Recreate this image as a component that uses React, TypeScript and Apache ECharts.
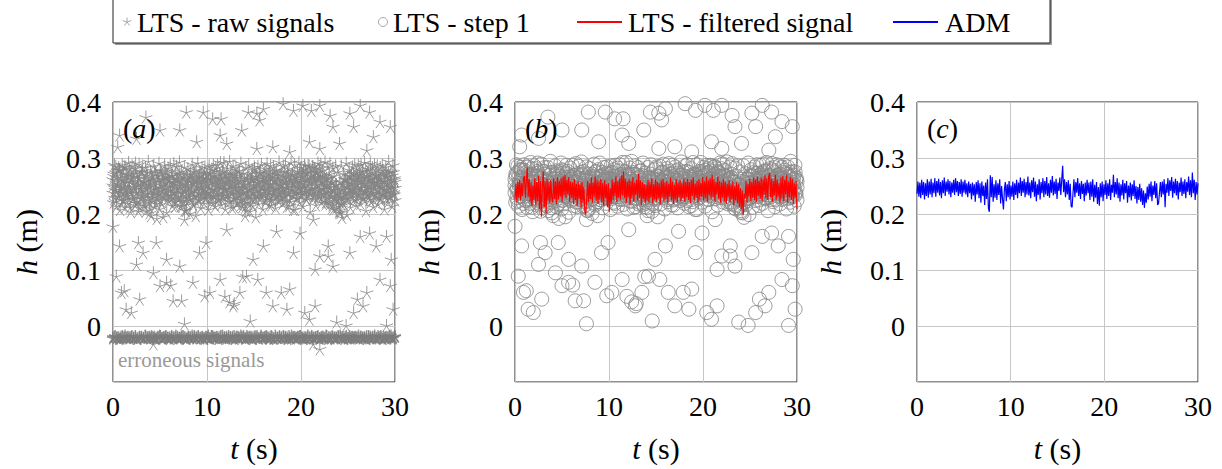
import React, { useEffect, useRef } from 'react';
import * as echarts from 'echarts';

// ---------------- DATA ----------------
const xTicks = [0, 10, 20, 30];
const yTicks = [0, 0.1, 0.2, 0.3, 0.4];
const T_END = 30;

// LTS raw signals, sensor set 1: band of valid readings (uniformly sampled over 0..30 s)
const rawBand = [
  0.262,0.221,0.288,0.243,0.285,0.214,0.251,0.279,0.232,0.279,0.208,0.266,0.239,0.288,0.225,0.273,0.247,0.212,0.284,0.236,
  0.258,0.219,0.292,0.241,0.271,0.204,0.263,0.286,0.228,0.249,0.281,0.216,0.291,0.237,0.268,0.223,0.254,0.289,0.211,0.246,
  0.276,0.232,0.283,0.218,0.257,0.242,0.283,0.206,0.269,0.235,0.294,0.221,0.252,0.274,0.197,0.261,0.229,0.286,0.244,0.213,
  0.271,0.238,0.192,0.259,0.226,0.291,0.209,0.248,0.277,0.218,0.263,0.195,0.245,0.287,0.231,0.266,0.203,0.254,0.282,0.224,
  0.249,0.287,0.234,0.268,0.215,0.257,0.29,0.239,0.272,0.222,0.285,0.246,0.261,0.228,0.293,0.251,0.214,0.276,0.237,0.264,
  0.222,0.284,0.243,0.206,0.271,0.252,0.281,0.231,0.259,0.201,0.267,0.241,0.289,0.219,0.255,0.276,0.233,0.197,0.262,0.245,
  0.291,0.226,0.258,0.274,0.211,0.248,0.283,0.236,0.265,0.219,0.284,0.243,0.229,0.271,0.253,0.208,0.286,0.239,0.262,0.221,
  0.279,0.244,0.287,0.231,0.257,0.214,0.268,0.249,0.288,0.226,0.263,0.238,0.292,0.217,0.254,0.275,0.233,0.292,0.246,0.209,
  0.266,0.235,0.282,0.223,0.258,0.294,0.241,0.271,0.212,0.252,0.286,0.229,0.264,0.247,0.283,0.218,0.256,0.277,0.236,0.269,
  0.226,0.291,0.248,0.213,0.273,0.239,0.259,0.197,0.283,0.232,0.265,0.221,0.288,0.244,0.205,0.262,0.237,0.279,0.215,0.253,
  0.284,0.229,0.195,0.267,0.241,0.285,0.218,0.256,0.274,0.233,0.289,0.249,0.209,0.263,0.238,0.281,0.222,0.258,0.29,0.235,
  0.271,0.216,0.254,0.287,0.243,0.227,0.268,0.284,0.236,0.259,0.211,0.279,0.245,0.264,0.224,0.293,0.251,0.231,0.275,0.242,
  0.219,0.286,0.257,0.234,0.288,0.248,0.213,0.266,0.239,0.281,0.226,0.262,0.292,0.244,0.271,0.208,0.255,0.288,0.237,0.261,
  0.229,0.276,0.247,0.292,0.221,0.258,0.283,0.235,0.269,0.214,0.252,0.287,0.241,0.273,0.226,0.261,0.287,0.233,0.256,0.204,
  0.268,0.243,0.285,0.227,0.262,0.281,0.238,0.216,0.274,0.253,0.291,0.232,0.266,0.245,0.289,0.221,0.259,0.278,0.236,0.251,
  0.293,0.218,0.264,0.247,0.284,0.229,0.271,0.29,0.239,0.257,0.211,0.282,0.244,0.268,0.233,0.286,0.252,0.226,0.275,0.241,
  0.203,0.258,0.231,0.286,0.194,0.249,0.272,0.217,0.263,0.236,0.291,0.199,0.255,0.228,0.279,0.245,0.212,0.268,0.238,0.284,
  0.224,0.261,0.288,0.242,0.273,0.215,0.253,0.287,0.234,0.266,0.219,0.289,0.248,0.277,0.227,0.259,0.292,0.239,0.206,0.269,
  0.246,0.281,0.231,0.263,0.29,0.222,0.257,0.275,0.213,0.249,0.288,0.236,0.27,0.253,0.286,0.218,0.262,0.241,0.283,0.228,
  0.255,0.287,0.236,0.272,0.209,0.259,0.284,0.243,0.267,0.221,0.294,0.248,0.231,0.276,0.252,0.214,0.287,0.239,0.264,0.225,
];

// LTS raw signals, sensor set 2 (uniformly sampled over 0..30 s)
const rawBand2 = [
  0.251,0.268,0.229,0.274,0.241,0.259,0.283,0.236,0.262,0.247,0.278,0.224,0.256,0.243,0.271,0.232,0.264,0.249,0.281,0.238,
  0.255,0.226,0.267,0.244,0.273,0.219,0.252,0.238,0.265,0.228,0.249,0.276,0.234,0.258,0.214,0.246,0.262,0.231,0.254,0.211,
  0.243,0.268,0.223,0.257,0.235,0.274,0.248,0.229,0.263,0.241,0.279,0.252,0.233,0.266,0.245,0.272,0.238,0.256,0.227,0.261,
  0.249,0.234,0.269,0.242,0.258,0.221,0.253,0.237,0.264,0.226,0.247,0.271,0.232,0.255,0.215,0.243,0.261,0.224,0.209,0.248,
  0.236,0.262,0.227,0.253,0.241,0.275,0.233,0.257,0.222,0.248,0.266,0.238,0.254,0.229,0.27,0.244,0.259,0.235,0.263,0.231,
  0.252,0.239,0.273,0.228,0.256,0.245,0.268,0.234,0.261,0.242,0.277,0.231,0.255,0.247,0.264,0.226,0.251,0.238,0.269,0.243,
  0.258,0.232,0.263,0.246,0.223,0.255,0.239,0.271,0.228,0.252,0.236,0.265,0.221,0.248,0.234,0.26,0.217,0.244,0.229,0.253,
  0.212,0.241,0.226,0.258,0.233,0.247,0.219,0.262,0.238,0.251,0.227,0.268,0.243,0.256,0.231,0.272,0.237,0.259,0.246,0.264,
  0.234,0.257,0.243,0.276,0.229,0.254,0.241,0.266,0.225,0.249,0.235,0.261,0.244,0.273,0.232,0.256,0.239,0.27,0.227,0.252,
  0.245,0.267,0.231,0.259,0.24,0.274,0.236,0.253,0.222,0.262,0.248,0.234,0.269,0.242,0.257,0.228,0.265,0.239,0.276,0.246,
  0.255,0.237,0.272,0.249,0.281,0.233,0.263,0.244,0.277,0.238,0.259,0.247,0.284,0.235,0.266,0.251,0.273,0.229,0.262,0.242,
  0.27,0.236,0.258,0.245,0.267,0.227,0.254,0.239,0.263,0.221,0.248,0.233,0.257,0.216,0.243,0.229,0.252,0.211,0.238,0.224,
  0.206,0.232,0.218,0.245,0.227,0.253,0.236,0.261,0.228,0.249,0.241,0.268,0.233,0.255,0.244,0.272,0.238,0.259,0.231,0.264,
  0.247,0.271,0.235,0.258,0.243,0.276,0.229,0.254,0.24,0.266,0.234,0.261,0.248,0.279,0.237,0.256,0.226,0.263,0.245,0.269,
  0.238,0.257,0.231,0.266,0.249,0.274,0.236,0.259,0.243,0.271,0.228,0.255,0.24,0.268,0.233,0.262,0.247,0.275,0.235,0.258,
];

// LTS raw signals, sensor set 3 (uniformly sampled over 0..30 s)
const rawBand3 = [
  0.238,0.272,0.247,0.223,0.265,0.254,0.231,0.278,0.243,0.219,0.261,0.249,0.284,0.227,0.257,0.236,0.269,0.244,0.212,0.258,
  0.233,0.266,0.248,0.221,0.276,0.239,0.257,0.205,0.263,0.245,0.228,0.271,0.252,0.215,0.259,0.237,0.274,0.226,0.249,0.202,
  0.256,0.229,0.264,0.239,0.277,0.246,0.218,0.268,0.235,0.259,0.224,0.273,0.242,0.262,0.231,0.255,0.276,0.241,0.266,0.233,
  0.261,0.244,0.227,0.269,0.238,0.256,0.213,0.263,0.245,0.231,0.274,0.251,0.223,0.259,0.238,0.266,0.207,0.247,0.229,0.264,
  0.249,0.227,0.271,0.239,0.258,0.216,0.265,0.243,0.279,0.232,0.254,0.225,0.268,0.246,0.236,0.262,0.241,0.273,0.228,0.257,
  0.237,0.263,0.248,0.274,0.232,0.259,0.219,0.267,0.244,0.282,0.236,0.254,0.227,0.271,0.249,0.262,0.233,0.276,0.245,0.258,
  0.271,0.245,0.229,0.262,0.251,0.274,0.236,0.258,0.213,0.247,0.269,0.232,0.255,0.241,0.277,0.226,0.264,0.238,0.252,0.219,
  0.248,0.206,0.263,0.235,0.271,0.244,0.257,0.228,0.266,0.239,0.281,0.247,0.262,0.233,0.256,0.241,0.275,0.229,0.259,0.252,
  0.243,0.268,0.226,0.261,0.248,0.235,0.272,0.253,0.216,0.264,0.241,0.277,0.229,0.258,0.246,0.269,0.236,0.254,0.243,0.231,
  0.262,0.239,0.276,0.224,0.254,0.247,0.268,0.215,0.259,0.244,0.271,0.233,0.252,0.208,0.265,0.238,0.257,0.248,0.272,0.235,
  0.266,0.249,0.278,0.241,0.259,0.226,0.274,0.252,0.286,0.237,0.263,0.245,0.271,0.231,0.258,0.276,0.243,0.267,0.234,0.281,
  0.256,0.229,0.268,0.246,0.237,0.261,0.222,0.253,0.241,0.265,0.218,0.249,0.232,0.257,0.209,0.244,0.226,0.252,0.235,0.214,
  0.228,0.202,0.243,0.221,0.256,0.234,0.262,0.227,0.249,0.268,0.238,0.257,0.246,0.274,0.231,0.263,0.244,0.252,0.225,0.269,
  0.259,0.237,0.274,0.248,0.265,0.229,0.256,0.243,0.277,0.235,0.268,0.251,0.226,0.262,0.244,0.283,0.238,0.257,0.266,0.232,
  0.254,0.271,0.243,0.226,0.263,0.249,0.278,0.237,0.258,0.232,0.267,0.245,0.274,0.229,0.256,0.241,0.269,0.236,0.261,0.247,
];

// LTS raw signals: scattered outliers [t (s), h (m)]
const rawOutliers: [number, number][] = [
  [3.5,0.373],[7.8,0.382],[9.6,0.382],[10.6,0.37],[11.5,0.37],[13.7,0.35],[14.4,0.382],[15.3,0.38],[16,0.388],[15.6,0.368],
  [18.1,0.397],[19.2,0.385],[20.2,0.394],[21.1,0.385],[22,0.394],[23.1,0.376],[23.4,0.356],[25.2,0.38],[26.3,0.394],[27.3,0.382],
  [28.4,0.365],[29.5,0.356],[25.6,0.356],[5,0.35],[7.1,0.35],[11.4,0.341],[12.1,0.326],[8.9,0.329],[15.3,0.317],[17,0.32],
  [18.8,0.311],[20.9,0.329],[22,0.317],[24.1,0.326],[27.7,0.338],[27,0.314],[0.5,0.32],[2.5,0.335],[0.7,0.341],
  [0,0.178],[0.7,0.143],[0.35,0.089],[1.2,0.063],[1.4,0.03],[0.9,0.06],[1.95,0.024],[2.84,0.048],[2.7,0.149],[3.2,0.131],
  [4.3,0.095],[5,0.072],[5.7,0.078],[6.14,0.073],[6.4,0.045],[7.3,0.045],[7.6,0.004],[2.5,0.11],[4.6,0.149],[5.7,0.119],
  [7.1,0.107],[8.5,0.078],[9.2,0.131],[9.76,0.054],[9.9,0.149],[10.3,0.06],[11.4,0.083],[11.9,0.053],[12.4,0.043],[12.9,0.04],
  [12.1,0.172],[12.8,0.036],[13.5,0.06],[13.8,0.088],[14.2,0.089],[14.6,0.009],[14.9,0.119],[15.4,0.083],[16,0.143],[16.3,0.06],
  [17,0.036],[17.9,0.06],[18.5,0.03],[18.8,0.066],[19.2,0.131],[19.9,0.166],[20.4,0.024],[20.9,0.012],[21.5,0.036],[21.5,0.101],
  [22,0.125],[22.9,0.125],[23.4,0.107],[22.9,0.143],[23.8,0.007],[24.8,0.001],[25.6,0.024],[26,0.048],[26.6,0.036],[27,0.06],
  [25.2,0.131],[26.3,0.16],[27.3,0.166],[28,0.143],[28.4,0.083],[29.1,0.001],[29.8,0.03],[29.5,0.072],[29.6,0.119],[29.1,0.16],
  [21.3,0.19],[17.4,0.169],[7.6,0.19],[22,-0.041],[21.3,-0.032],[4.3,-0.032],
];

// LTS raw signals: erroneous readings, sensor sets 1 and 2 (uniformly sampled over 0..30 s)
const erroneous = [
  -0.02,-0.019,-0.021,-0.02,-0.022,-0.018,-0.02,-0.021,-0.019,-0.02,
  -0.018,-0.021,-0.02,-0.022,-0.019,-0.02,-0.021,-0.018,-0.02,-0.019,
  -0.021,-0.02,-0.019,-0.022,-0.02,-0.018,-0.021,-0.02,-0.019,-0.021,
  -0.02,-0.018,-0.022,-0.02,-0.019,-0.021,-0.02,-0.018,-0.02,-0.022,
  -0.019,-0.02,-0.021,-0.018,-0.02,-0.019,-0.022,-0.02,-0.021,-0.019,
  -0.02,-0.022,-0.018,-0.02,-0.021,-0.019,-0.02,-0.018,-0.021,-0.02,
  -0.019,-0.021,-0.02,-0.022,-0.018,-0.02,-0.019,-0.021,-0.02,-0.018,
  -0.022,-0.02,-0.019,-0.021,-0.02,-0.018,-0.02,-0.022,-0.019,-0.021,
  -0.02,-0.018,-0.021,-0.02,-0.019,-0.022,-0.02,-0.021,-0.018,-0.02,
  -0.019,-0.021,-0.02,-0.018,-0.022,-0.02,-0.019,-0.021,-0.02,-0.018,
  -0.021,-0.02,-0.022,-0.019,-0.02,-0.018,-0.021,-0.02,-0.019,-0.022,
  -0.02,-0.019,-0.021,-0.018,-0.02,-0.022,-0.019,-0.02,-0.021,-0.018,
  -0.02,-0.021,-0.019,-0.02,-0.022,-0.018,-0.02,-0.021,-0.019,-0.02,
  -0.022,-0.019,-0.02,-0.021,-0.018,-0.02,-0.019,-0.022,-0.02,-0.021,
  -0.018,-0.02,-0.021,-0.019,-0.02,-0.022,-0.018,-0.021,-0.02,-0.019,
];
const erroneous2 = [
  -0.022,-0.018,-0.02,-0.023,-0.019,-0.021,-0.017,-0.02,-0.022,-0.019,-0.021,-0.018,-0.023,-0.02,-0.019,-0.022,-0.017,-0.021,-0.02,-0.018,
  -0.021,-0.023,-0.019,-0.017,-0.022,-0.02,-0.018,-0.021,-0.023,-0.019,-0.02,-0.017,-0.022,-0.021,-0.018,-0.02,-0.023,-0.019,-0.021,-0.017,
  -0.02,-0.022,-0.018,-0.021,-0.019,-0.023,-0.02,-0.017,-0.022,-0.018,-0.021,-0.02,-0.023,-0.019,-0.017,-0.021,-0.022,-0.018,-0.02,-0.019,
  -0.023,-0.019,-0.021,-0.017,-0.02,-0.022,-0.018,-0.021,-0.019,-0.023,-0.02,-0.018,-0.022,-0.017,-0.021,-0.019,-0.02,-0.023,-0.018,-0.022,
  -0.017,-0.021,-0.02,-0.022,-0.018,-0.019,-0.023,-0.021,-0.017,-0.02,-0.022,-0.019,-0.018,-0.021,-0.023,-0.02,-0.017,-0.022,-0.019,-0.021,
  -0.02,-0.018,-0.022,-0.019,-0.021,-0.017,-0.023,-0.02,-0.018,-0.022,-0.021,-0.019,-0.017,-0.02,-0.023,-0.018,-0.021,-0.022,-0.019,-0.02,
  -0.021,-0.017,-0.019,-0.022,-0.02,-0.023,-0.018,-0.021,-0.019,-0.017,-0.022,-0.02,-0.018,-0.023,-0.021,-0.019,-0.02,-0.017,-0.022,-0.018,
];

// LTS - filtered signal (uniformly sampled over 0..30 s)
const filteredSignal = [
  0.226,0.254,0.221,0.258,0.229,0.261,0.224,0.255,0.232,0.263,0.268,0.228,0.259,0.283,0.231,0.262,0.222,0.256,0.214,0.251,
  0.225,0.264,0.216,0.257,0.223,0.268,0.209,0.259,0.195,0.248,0.276,0.212,0.258,0.201,0.263,0.224,0.257,0.219,0.261,0.228,
  0.221,0.263,0.227,0.258,0.218,0.266,0.226,0.259,0.231,0.264,0.222,0.267,0.233,0.27,0.228,0.261,0.235,0.266,0.222,0.258,
  0.229,0.256,0.218,0.262,0.225,0.254,0.214,0.258,0.227,0.255,0.212,0.257,0.22,0.249,0.205,0.199,0.226,0.259,0.221,0.255,
  0.227,0.265,0.22,0.256,0.231,0.267,0.223,0.261,0.218,0.258,0.226,0.263,0.221,0.255,0.215,0.26,0.228,0.253,0.212,0.255,
  0.204,0.246,0.219,0.262,0.225,0.257,0.232,0.267,0.222,0.259,0.229,0.264,0.226,0.269,0.233,0.276,0.228,0.263,0.22,0.258,
  0.23,0.262,0.217,0.259,0.228,0.266,0.222,0.256,0.234,0.261,0.224,0.272,0.229,0.26,0.215,0.257,0.227,0.254,0.219,0.252,
  0.224,0.261,0.221,0.257,0.229,0.264,0.219,0.253,0.226,0.262,0.222,0.258,0.228,0.255,0.217,0.26,0.23,0.263,0.223,0.256,
  0.227,0.259,0.22,0.254,0.231,0.265,0.224,0.258,0.218,0.252,0.226,0.262,0.221,0.256,0.229,0.26,0.223,0.255,0.228,0.263,
  0.222,0.257,0.23,0.263,0.225,0.257,0.219,0.261,0.232,0.265,0.224,0.254,0.229,0.259,0.221,0.262,0.226,0.256,0.231,0.266,
  0.224,0.258,0.228,0.267,0.222,0.26,0.233,0.264,0.226,0.27,0.23,0.262,0.223,0.257,0.235,0.267,0.227,0.259,0.22,0.256,
  0.229,0.262,0.223,0.257,0.218,0.254,0.23,0.26,0.221,0.252,0.226,0.258,0.216,0.25,0.224,0.256,0.219,0.253,0.213,0.246,
  0.208,0.242,0.198,0.236,0.228,0.259,0.22,0.254,0.231,0.263,0.223,0.257,0.229,0.265,0.225,0.261,0.221,0.267,0.232,0.259,
  0.227,0.265,0.223,0.262,0.234,0.269,0.228,0.264,0.225,0.267,0.273,0.23,0.263,0.221,0.259,0.233,0.27,0.226,0.262,0.231,
  0.255,0.22,0.265,0.228,0.268,0.223,0.261,0.235,0.27,0.221,0.258,0.23,0.266,0.225,0.263,0.218,0.256,0.229,0.259,0.208,
];

// ADM (uniformly sampled over 0..30 s)
const admSignal = [
  0.236,0.258,0.231,0.256,0.228,0.261,0.234,0.257,0.226,0.255,0.232,0.262,0.229,0.258,0.235,0.263,0.23,0.256,0.237,0.264,
  0.231,0.259,0.238,0.263,0.233,0.257,0.228,0.26,0.237,0.265,0.232,0.258,0.24,0.262,0.235,0.259,0.23,0.256,0.238,0.261,
  0.234,0.264,0.239,0.259,0.232,0.257,0.236,0.262,0.231,0.258,0.238,0.261,0.235,0.255,0.23,0.258,0.237,0.254,0.226,0.256,
  0.233,0.253,0.222,0.257,0.235,0.26,0.228,0.255,0.22,0.258,0.232,0.251,0.216,0.256,0.227,0.262,0.21,0.204,0.269,0.23,
  0.266,0.222,0.253,0.229,0.26,0.225,0.255,0.234,0.262,0.219,0.25,0.227,0.208,0.244,0.257,0.223,0.253,0.23,0.259,0.226,
  0.251,0.231,0.258,0.225,0.255,0.234,0.261,0.228,0.256,0.237,0.265,0.232,0.259,0.238,0.263,0.23,0.257,0.235,0.267,0.233,
  0.256,0.228,0.26,0.239,0.265,0.231,0.258,0.223,0.253,0.234,0.262,0.226,0.257,0.237,0.264,0.23,0.259,0.235,0.266,0.232,
  0.255,0.229,0.261,0.238,0.268,0.233,0.258,0.236,0.263,0.227,0.256,0.241,0.265,0.234,0.261,0.286,0.239,0.262,0.23,0.257,
  0.235,0.26,0.225,0.254,0.214,0.212,0.237,0.262,0.23,0.257,0.238,0.264,0.232,0.255,0.227,0.259,0.236,0.254,0.223,0.256,
  0.233,0.261,0.237,0.256,0.225,0.258,0.231,0.262,0.222,0.252,0.229,0.257,0.218,0.248,0.215,0.255,0.23,0.258,0.223,0.253,
  0.234,0.26,0.227,0.255,0.232,0.262,0.225,0.252,0.238,0.27,0.23,0.257,0.235,0.264,0.228,0.256,0.222,0.253,0.233,0.261,
  0.226,0.255,0.237,0.259,0.22,0.251,0.23,0.256,0.224,0.253,0.232,0.26,0.227,0.25,0.219,0.248,0.225,0.254,0.222,0.246,
  0.216,0.242,0.211,0.237,0.22,0.249,0.226,0.254,0.231,0.258,0.223,0.251,0.234,0.259,0.228,0.255,0.216,0.219,0.238,0.257,
  0.23,0.258,0.235,0.262,0.212,0.254,0.238,0.264,0.232,0.26,0.241,0.266,0.229,0.258,0.237,0.263,0.233,0.259,0.226,0.256,
  0.239,0.265,0.232,0.258,0.236,0.262,0.228,0.257,0.24,0.267,0.234,0.26,0.23,0.274,0.237,0.261,0.225,0.257,0.235,0.255,
];

// ---------------- HELPERS ----------------
const sampled = (vals: number[]): [number, number][] =>
  vals.map((v, i) => [(i * T_END) / (vals.length - 1), v]);

const validPoints: [number, number][] = [
  ...sampled(rawBand),
  ...sampled(rawBand2),
  ...sampled(rawBand3),
  ...rawOutliers,
];
const errorPoints: [number, number][] = [...sampled(erroneous), ...sampled(erroneous2)];
// Step 1: erroneous (negative) readings removed
const step1Points = validPoints.filter((p) => p[1] > -0.005);

const FONT = 'Liberation Serif';
const FS = 28;
const STAR = 'path://M0,-10L0,0M9.51,-3.09L0,0M5.88,8.09L0,0M-5.88,8.09L0,0M-9.51,-3.09L0,0';

const panels = [
  { left: 113, width: 282, tag: 'a', tagW: 0.5 },
  { left: 515, width: 282, tag: 'b', tagW: 0.5 },
  { left: 917, width: 281, tag: 'c', tagW: 0.444 },
];
const TOP = 102;
const HEIGHT = 280;

const txt = (x: number, y: number, text: string, extra: any = {}) => ({
  type: 'text',
  x,
  y,
  z: 12,
  style: {
    text,
    fontFamily: FONT,
    fontSize: FS,
    fill: '#000',
    verticalAlign: 'middle',
    ...extra,
  },
});

function buildOption(): any {
  const grid = panels.map((p) => ({
    left: p.left,
    top: TOP,
    width: p.width,
    height: HEIGHT,
    show: true,
    borderColor: '#222',
    borderWidth: 1,
    backgroundColor: 'transparent',
  }));
  const xAxis = panels.map((_, i) => ({
    gridIndex: i,
    type: 'value',
    min: xTicks[0],
    max: xTicks[xTicks.length - 1],
    interval: 10,
    axisLine: { show: false },
    axisTick: { show: false },
    splitLine: { show: true, lineStyle: { color: '#c6c6c6', width: 1 } },
    axisLabel: { fontFamily: FONT, fontSize: FS, color: '#000', margin: 10 },
  }));
  const yAxis = panels.map((_, i) => ({
    gridIndex: i,
    type: 'value',
    min: -0.1,
    max: yTicks[yTicks.length - 1],
    interval: 0.1,
    axisLine: { show: false },
    axisTick: { show: false },
    splitLine: { show: true, lineStyle: { color: '#c6c6c6', width: 1 } },
    axisLabel: {
      fontFamily: FONT,
      fontSize: FS,
      color: '#000',
      margin: 12,
      formatter: (v: number) => (v < -0.05 ? '' : Math.abs(v) < 1e-9 ? '0' : v.toFixed(1)),
    },
  }));

  const series: any[] = [
    {
      name: 'LTS - raw signals',
      type: 'scatter',
      xAxisIndex: 0,
      yAxisIndex: 0,
      data: validPoints,
      symbol: STAR,
      symbolSize: 13,
      progressive: 0,
      itemStyle: { color: 'transparent', borderColor: '#858585', borderWidth: 1 },
      z: 2,
    },
    {
      name: 'LTS - raw signals',
      type: 'scatter',
      xAxisIndex: 0,
      yAxisIndex: 0,
      data: errorPoints,
      symbol: STAR,
      symbolSize: 12,
      progressive: 0,
      itemStyle: { color: 'transparent', borderColor: '#7c7c7c', borderWidth: 1.4 },
      z: 2,
    },
    {
      name: 'LTS - step 1',
      type: 'scatter',
      xAxisIndex: 1,
      yAxisIndex: 1,
      data: step1Points,
      symbol: 'circle',
      symbolSize: 14,
      progressive: 0,
      itemStyle: { color: 'transparent', borderColor: '#8a8a8a', borderWidth: 1, opacity: 0.85 },
      z: 2,
    },
    {
      name: 'LTS - filtered signal',
      type: 'line',
      xAxisIndex: 1,
      yAxisIndex: 1,
      data: sampled(filteredSignal),
      showSymbol: false,
      symbol: 'none',
      lineStyle: { color: '#ff0000', width: 1.2 },
      z: 3,
    },
    {
      name: 'ADM',
      type: 'line',
      xAxisIndex: 2,
      yAxisIndex: 2,
      data: sampled(admSignal),
      showSymbol: false,
      symbol: 'none',
      lineStyle: { color: '#0000ff', width: 1.2 },
      z: 3,
    },
  ];

  const LY = 22;
  const starArms = [90, 18, -54, -126, 162].map((deg) => {
    const r = 4.5;
    const a = (deg * Math.PI) / 180;
    return {
      type: 'line',
      z: 12,
      shape: { x1: 127, y1: LY, x2: 127 + r * Math.cos(a), y2: LY - r * Math.sin(a) },
      style: { stroke: '#a8a8a8', lineWidth: 1 },
    };
  });

  const graphic: any[] = [
    { type: 'rect', shape: { x: 115, y: 0, width: 937, height: 45 }, style: { fill: '#9a9a9a' }, z: 10 },
    { type: 'rect', shape: { x: 113, y: -2, width: 937, height: 45 }, style: { fill: '#fff', stroke: '#222', lineWidth: 1 }, z: 11 },
    ...starArms,
    txt(137, LY, 'LTS - raw signals'),
    { type: 'circle', z: 12, shape: { cx: 383, cy: LY, r: 4.5 }, style: { fill: 'transparent', stroke: '#a8a8a8', lineWidth: 1 } },
    txt(393, LY, 'LTS - step 1'),
    { type: 'line', z: 12, shape: { x1: 577, y1: LY, x2: 622, y2: LY }, style: { stroke: '#ff0000', lineWidth: 2 } },
    txt(628, LY, 'LTS - filtered signal'),
    { type: 'line', z: 12, shape: { x1: 893, y1: LY, x2: 938, y2: LY }, style: { stroke: '#0000ff', lineWidth: 2 } },
    txt(945, LY, 'ADM'),
    txt(118, 360, 'erroneous signals', { fontSize: 21, fill: '#999' }),
  ];

  const NS = 30;
  panels.forEach((p) => {
    // panel tag "(a)" with italic letter
    const x0 = p.left + 10;
    const yTag = 128;
    graphic.push(txt(x0, yTag, '('));
    graphic.push(txt(x0 + 0.333 * FS, yTag, p.tag, { fontStyle: 'italic' }));
    graphic.push(txt(x0 + 0.333 * FS + p.tagW * FS, yTag, ')'));

    // y-axis name "h (m)", rotated
    const hW = 0.5 * NS;
    const restW = 1.694 * NS;
    const tot = hW + restW;
    graphic.push({
      type: 'group',
      x: p.left - 87,
      y: TOP + HEIGHT / 2,
      rotation: Math.PI / 2,
      z: 12,
      children: [
        txt(-tot / 2, 0, 'h', { fontStyle: 'italic', fontSize: NS }),
        txt(-tot / 2 + hW, 0, ' (m)', { fontSize: NS }),
      ],
    });

    // x-axis name "t (s)"
    const tW = 0.278 * NS;
    const sW = 1.305 * NS;
    const cx = p.left + p.width / 2;
    const sx = cx - (tW + sW) / 2;
    graphic.push(txt(sx, 448, 't', { fontStyle: 'italic', fontSize: NS }));
    graphic.push(txt(sx + tW, 448, ' (s)', { fontSize: NS }));
  });

  return {
    animation: false,
    backgroundColor: '#fff',
    grid,
    xAxis,
    yAxis,
    series,
    graphic,
  };
}

export default function App() {
  const ref = useRef<HTMLDivElement>(null);
  useEffect(() => {
    if (!ref.current) return;
    const chart = echarts.init(ref.current, null, { renderer: 'svg' });
    chart.setOption(buildOption());
    return () => chart.dispose();
  }, []);
  return (
    <div
      ref={ref}
      style={{ position: 'fixed', left: 0, top: 0, width: 1222, height: 469, background: '#fff' }}
    />
  );
}
